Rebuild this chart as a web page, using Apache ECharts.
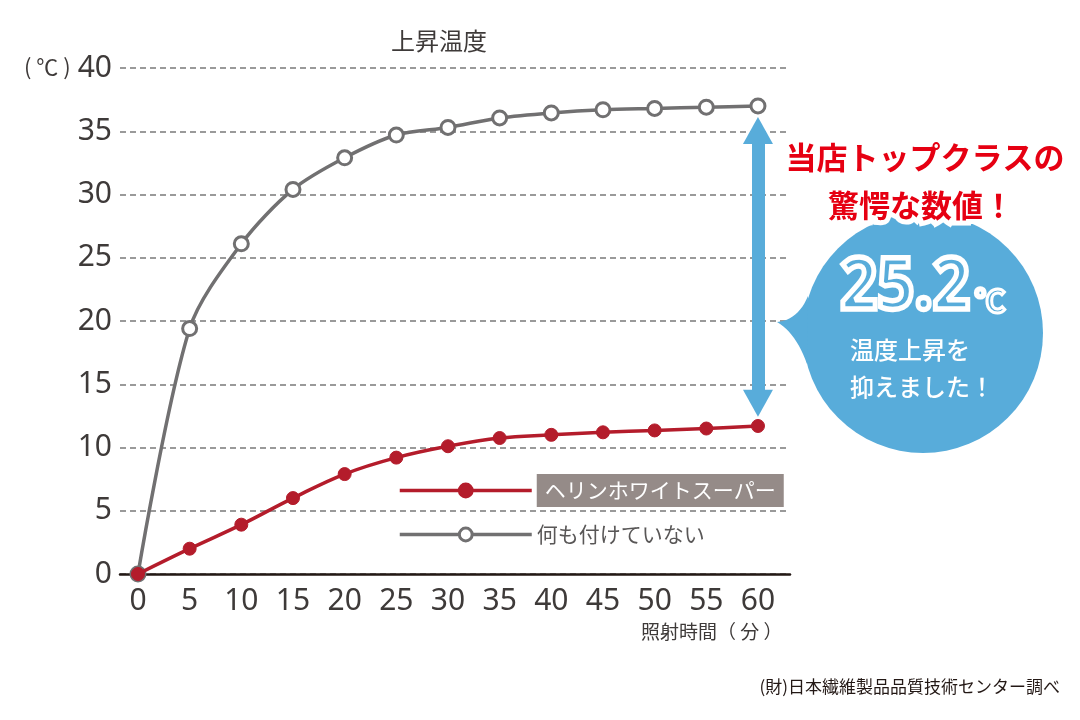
<!DOCTYPE html>
<html>
<head>
<meta charset="utf-8">
<script src="https://cdn.jsdelivr.net/npm/echarts@6/dist/echarts.min.js"></script>
<style>
  html, body { margin: 0; padding: 0; background: #fff; }
  #chart { width: 1080px; height: 720px; }
</style>
</head>
<body>
<div id="chart"></div>
<script>
// 照射時間（分）
var minutes = [0, 5, 10, 15, 20, 25, 30, 35, 40, 45, 50, 55, 60];
// ヘリンホワイトスーパー
var heliWhite = [0, 2.0, 3.9, 6.0, 7.9, 9.2, 10.1, 10.75, 11.0, 11.2, 11.35, 11.5, 11.7];
// 何も付けていない
var nothing = [0, 19.4, 26.1, 30.4, 32.9, 34.7, 35.3, 36.05, 36.45, 36.7, 36.8, 36.9, 37.0];
var xTicks = [0, 5, 10, 15, 20, 25, 30, 35, 40, 45, 50, 55, 60];
var seriesNames = ['ヘリンホワイトスーパー', '何も付けていない'];
// 差（上昇温度を抑えた幅）
var diffTop = 35.05, diffBottom = 13.5;

var CJK = "'Noto Sans CJK JP', 'Noto Sans', sans-serif";
var NUM = "'Noto Sans', sans-serif";
var BLUE = '#58acda';
var RED = '#b41c2b';
var GRAY = '#717071';

function pairs(ys) {
  return minutes.map(function (m, i) { return [m, ys[i]]; });
}

// 吹き出しのしっぽ（二次ベジェを折れ線に）
function quad(p0, p1, p2, n) {
  var pts = [];
  for (var i = 0; i <= n; i++) {
    var t = i / n, u = 1 - t;
    pts.push([u * u * p0[0] + 2 * u * t * p1[0] + t * t * p2[0],
              u * u * p0[1] + 2 * u * t * p1[1] + t * t * p2[1]]);
  }
  return pts;
}
var tail = quad([808, 296], [798, 320], [777, 322], 12)
  .concat(quad([777, 322], [796, 333], [807, 364], 12).slice(1));

var chart = echarts.init(document.getElementById('chart'));

chart.setOption({
  animation: false,
  backgroundColor: '#fff',
  title: {
    text: '上昇温度',
    left: 434,
    top: 24,
    textAlign: 'center',
    textStyle: { color: '#3e3a39', fontSize: 24, fontWeight: 'normal', fontFamily: CJK }
  },
  grid: { left: 120, right: 290, top: 68, bottom: 146 },
  legend: {
    orient: 'vertical',
    left: 398,
    top: 474,
    padding: 0,
    itemWidth: 132,
    itemHeight: 16,
    itemGap: 17,
    selectedMode: false,
    lineStyle: { width: 3.5 },
    itemStyle: { borderWidth: 3 },
    data: [
      {
        name: seriesNames[0],
        textStyle: {
          color: '#fff', backgroundColor: '#958b88',
          padding: [6, 8, 6, 8], fontSize: 21
        }
      },
      { name: seriesNames[1] }
    ],
    textStyle: { color: '#595757', fontSize: 21, fontFamily: CJK }
  },
  xAxis: {
    type: 'value',
    min: -1.74,
    max: 63.1,
    axisLine: { show: true, onZero: false, lineStyle: { color: '#231815', width: 2.5 } },
    axisTick: { show: false },
    splitLine: { show: false },
    axisLabel: {
      customValues: xTicks,
      color: '#3e3a39',
      fontSize: 30,
      fontFamily: NUM,
      margin: 12
    }
  },
  yAxis: {
    type: 'value',
    min: 0,
    max: 40,
    interval: 5,
    axisLine: { show: false },
    axisTick: { show: false },
    axisLabel: { color: '#3e3a39', fontSize: 30, fontFamily: NUM, margin: 8 },
    splitLine: { show: true, lineStyle: { color: '#7a7a7a', type: [6, 4], width: 1.5 } }
  },
  series: [
    {
      name: seriesNames[1],
      type: 'line',
      data: pairs(nothing),
      smooth: 0.3,
      symbol: 'circle',
      symbolSize: 14,
      z: 2,
      lineStyle: { color: GRAY, width: 3.5 },
      itemStyle: { color: '#fff', borderColor: GRAY, borderWidth: 3 }
    },
    {
      name: seriesNames[0],
      type: 'line',
      data: pairs(heliWhite),
      smooth: 0.4,
      symbol: 'circle',
      symbolSize: 13,
      z: 3,
      lineStyle: { color: RED, width: 3.5 },
      itemStyle: { color: RED, borderColor: RED },
      markLine: {
        silent: true,
        symbol: ['triangle', 'triangle'],
        symbolSize: [30, 27],
        label: { show: false },
        lineStyle: { color: BLUE, width: 13, type: 'solid', opacity: 1 },
        data: [[{ coord: [60, diffTop] }, { coord: [60, diffBottom] }]]
      }
    }
  ],
  graphic: [
    { type: 'text', x: 24, y: 56, style: { text: '( ℃ )', fill: '#3e3a39', fontSize: 22, fontFamily: CJK } },
    { type: 'text', x: 641, y: 622, style: { text: '照射時間（ 分 ）', fill: '#3e3a39', fontSize: 19, fontFamily: CJK } },
    { type: 'text', x: 1060, y: 678, style: { text: '(財)日本繊維製品品質技術センター調べ', align: 'right', fill: '#231815', fontSize: 17, fontFamily: CJK } },
    // 吹き出し
    { type: 'circle', shape: { cx: 923, cy: 333, r: 120 }, style: { fill: BLUE }, z: 10 },
    { type: 'polygon', shape: { points: tail }, style: { fill: BLUE }, z: 10 },
    // 赤い見出し（白い縁取り）
    { type: 'text', z: 11, style: { x: 925, y: 157, text: '当店トップクラスの', align: 'center', verticalAlign: 'middle', fill: '#fff', stroke: '#fff', lineWidth: 10, fontSize: 31, fontWeight: 'bold', fontFamily: CJK } },
    { type: 'text', z: 11, style: { x: 921, y: 205, text: '驚愕な数値！', align: 'center', verticalAlign: 'middle', fill: '#fff', stroke: '#fff', lineWidth: 10, fontSize: 31, fontWeight: 'bold', fontFamily: CJK } },
    { type: 'text', z: 12, style: { x: 925, y: 157, text: '当店トップクラスの', align: 'center', verticalAlign: 'middle', fill: '#e60012', fontSize: 31, fontWeight: 'bold', fontFamily: CJK } },
    { type: 'text', z: 12, style: { x: 921, y: 205, text: '驚愕な数値！', align: 'center', verticalAlign: 'middle', fill: '#e60012', fontSize: 31, fontWeight: 'bold', fontFamily: CJK } },
    // 25.2℃
    { type: 'text', z: 12, x: 905, y: 288, scaleX: 0.9, style: { x: 0, y: 0, text: '25.2', align: 'center', verticalAlign: 'middle', fill: BLUE, fontSize: 72, fontWeight: 'bold', fontFamily: 'Noto Sans' } },
    { type: 'text', z: 13, x: 905, y: 288, scaleX: 0.9, style: { x: 0, y: 0, text: '25.2', align: 'center', verticalAlign: 'middle', fill: 'transparent', stroke: '#fff', lineWidth: 5.5, fontSize: 72, fontWeight: 'bold', fontFamily: 'Noto Sans' } },
    { type: 'text', z: 12, style: { x: 990, y: 300, text: '℃', align: 'center', verticalAlign: 'middle', fill: BLUE, fontSize: 31, fontWeight: 'bold', fontFamily: CJK } },
    { type: 'text', z: 13, style: { x: 990, y: 300, text: '℃', align: 'center', verticalAlign: 'middle', fill: 'transparent', stroke: '#fff', lineWidth: 3, fontSize: 31, fontWeight: 'bold', fontFamily: CJK } },
    { type: 'text', z: 12, style: { x: 850, y: 350, text: '温度上昇を', verticalAlign: 'middle', fill: '#fff', fontSize: 24, fontWeight: 500, fontFamily: CJK } },
    { type: 'text', z: 12, style: { x: 850, y: 387, text: '抑えました！', verticalAlign: 'middle', fill: '#fff', fontSize: 24, fontWeight: 500, fontFamily: CJK } }
  ]
});
</script>
</body>
</html>
